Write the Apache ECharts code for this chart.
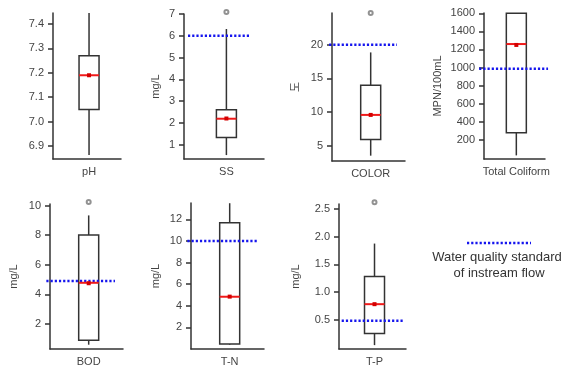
<!DOCTYPE html>
<html>
<head>
<meta charset="utf-8">
<script src="https://cdn.jsdelivr.net/npm/echarts@6/dist/echarts.min.js"></script>
<style>
  html, body { margin: 0; padding: 0; background: #fff; }
  #chart { width: 562px; height: 369px; }
</style>
</head>
<body>
<div id="chart"></div>
<script>
// 수질 항목
var categories = ['pH', 'SS', 'COLOR', 'Total Coliform', 'BOD', 'T-N', 'T-P'];
var units = ['', 'mg/L', '도', 'MPN/100mL', 'mg/L', 'mg/L', 'mg/L'];
// min, Q1, median, Q3, max
var boxStats = [
  [6.863, 7.05, 7.19, 7.27, 7.445],
  [0.52, 1.33, 2.19, 2.6, 6.31],
  [3.56, 5.95, 9.6, 14.0, 18.86],
  [26, 278, 1260, 1600, 1600],
  [0.6, 0.9, 4.78, 8.0, 9.33],
  [0.4, 0.46, 4.84, 11.7, 13.5],
  [0.04, 0.25, 0.78, 1.28, 1.875]
];
var means = [7.19, 2.2, 9.6, 1250, 4.75, 4.85, 0.78];
var outliers = [[], [7.09], [24.7], [], [10.23], [], [2.62]];
// 하천유지용수 수질기준
var standards = [null, 6, 20, 985, 4.9, 10, 0.48];
var axisMin = [6.847, 0.34, 2.77, -14, 0.31, 0, -0.03];
var axisMax = [7.445, 7.0, 24.7, 1604, 10.1, 13.52, 2.59];
var tickLabels = [
  ['6.9', '7.0', '7.1', '7.2', '7.3', '7.4'],
  ['1', '2', '3', '4', '5', '6', '7'],
  ['5', '10', '15', '20'],
  ['200', '400', '600', '800', '1000', '1200', '1400', '1600'],
  ['2', '4', '6', '8', '10'],
  ['2', '4', '6', '8', '10', '12'],
  ['0.5', '1.0', '1.5', '2.0', '2.5']
];

// 패널 배치
var layout = [
  { left: 53, top: 13, width: 68, height: 146, gap: 0, std: [0, 0.9] },
  { left: 184, top: 14, width: 80, height: 145, gap: 23, std: [0.05, 0.83] },
  { left: 332, top: 13, width: 73, height: 148, gap: 31, std: [-0.04, 0.89] },
  { left: 484, top: 13, width: 61, height: 146, gap: 41, std: [-0.08, 1.05] },
  { left: 50, top: 204, width: 73, height: 145, gap: 31, std: [-0.05, 0.89] },
  { left: 191, top: 203, width: 73, height: 146, gap: 30, std: [-0.05, 0.91] },
  { left: 339, top: 204, width: 67, height: 145, gap: 38, std: [0.04, 0.97] }
];
var BOX_X = 0.53, BOX_W = 20;
var FONT = '"Liberation Sans", "Noto Sans CJK KR", sans-serif';
var AXIS_COLOR = '#333';
var STD_COLOR = '#1515ee';

var grids = [], xAxes = [], yAxes = [], series = [];

categories.forEach(function (cat, i) {
  var lay = layout[i];
  grids.push({ left: lay.left, top: lay.top, width: lay.width, height: lay.height, containLabel: false, outerBoundsMode: 'none' });

  xAxes.push({
    gridIndex: i, type: 'value', min: 0, max: 1,
    splitLine: { show: false },
    axisLine: { show: true, onZero: false, lineStyle: { color: AXIS_COLOR, width: 1.5 } },
    axisTick: { show: false },
    axisLabel: {
      customValues: [BOX_X], margin: 7, color: '#444', fontSize: 11, fontFamily: FONT,
      formatter: function () { return cat; }
    }
  });

  var ticks = tickLabels[i].map(Number);
  yAxes.push({
    gridIndex: i, type: 'value', min: axisMin[i], max: axisMax[i],
    splitLine: { show: false },
    axisLine: { show: true, onZero: false, lineStyle: { color: AXIS_COLOR, width: 1.5 } },
    axisTick: { show: true, length: 5, customValues: ticks, lineStyle: { color: AXIS_COLOR, width: 1.5 } },
    axisLabel: {
      customValues: ticks, margin: 9, color: '#444', fontSize: 11, fontFamily: FONT,
      formatter: function (v) {
        var s = tickLabels[i].filter(function (t) { return Number(t) === v; });
        return s.length ? s[0] : '';
      }
    },
    name: units[i], nameLocation: 'middle', nameRotate: 90, nameGap: lay.gap,
    nameTextStyle: { color: '#444', fontSize: 11, fontFamily: FONT }
  });

  var std = standards[i];
  series.push({
    type: 'custom', xAxisIndex: i, yAxisIndex: i, clip: false, z: 3,
    data: [[BOX_X].concat(boxStats[i]).concat([means[i]])],
    renderItem: function (params, api) {
      var x = api.value(0);
      var p = function (v) { return api.coord([x, v]); };
      var lo = p(api.value(1)), q1 = p(api.value(2)), md = p(api.value(3)),
          q3 = p(api.value(4)), hi = p(api.value(5)), mn = p(api.value(6));
      var cx = lo[0], hw = BOX_W / 2;
      var line = { stroke: AXIS_COLOR, lineWidth: 1.5 };
      var kids = [
        { type: 'line', shape: { x1: cx, y1: hi[1], x2: cx, y2: lo[1] }, style: line },
        { type: 'rect', shape: { x: cx - hw, y: q3[1], width: BOX_W, height: q1[1] - q3[1] },
          style: { fill: '#fff', stroke: AXIS_COLOR, lineWidth: 1.5 } }
      ];
      if (std !== null) {
        var a = api.coord([lay.std[0], std]), b = api.coord([lay.std[1], std]);
        kids.push({ type: 'line', shape: { x1: a[0], y1: a[1], x2: b[0], y2: b[1] },
          style: { stroke: STD_COLOR, lineWidth: 2.5, lineDash: [2.2, 2] } });
      }
      kids.push({ type: 'line', shape: { x1: cx - hw, y1: md[1], x2: cx + hw, y2: md[1] },
        style: { stroke: '#f01a1a', lineWidth: 2 } });
      kids.push({ type: 'rect', shape: { x: cx - 2, y: mn[1] - 2, width: 4, height: 4 },
        style: { fill: '#d40000' } });
      return { type: 'group', children: kids };
    }
  });

  if (outliers[i].length) {
    series.push({
      type: 'scatter', xAxisIndex: i, yAxisIndex: i, clip: false, z: 4,
      symbol: 'emptyCircle', symbolSize: 4,
      itemStyle: { color: '#777', borderColor: '#777', borderWidth: 1 },
      data: outliers[i].map(function (v) { return [BOX_X, v]; })
    });
  }
});

var chart = echarts.init(document.getElementById('chart'));
chart.setOption({
  animation: false,
  backgroundColor: '#fff',
  grid: grids,
  xAxis: xAxes,
  yAxis: yAxes,
  series: series,
  graphic: [
    { type: 'line', shape: { x1: 467, y1: 243, x2: 531, y2: 243 },
      style: { stroke: STD_COLOR, lineWidth: 2.5, lineDash: [2.2, 2] } },
    { type: 'text', x: 497, y: 257, style: { text: 'Water quality standard', align: 'center', verticalAlign: 'middle',
      fill: '#333', fontSize: 13, fontFamily: FONT } },
    { type: 'text', x: 499, y: 273, style: { text: 'of instream flow', align: 'center', verticalAlign: 'middle',
      fill: '#333', fontSize: 13, fontFamily: FONT } }
  ]
});
</script>
</body>
</html>
